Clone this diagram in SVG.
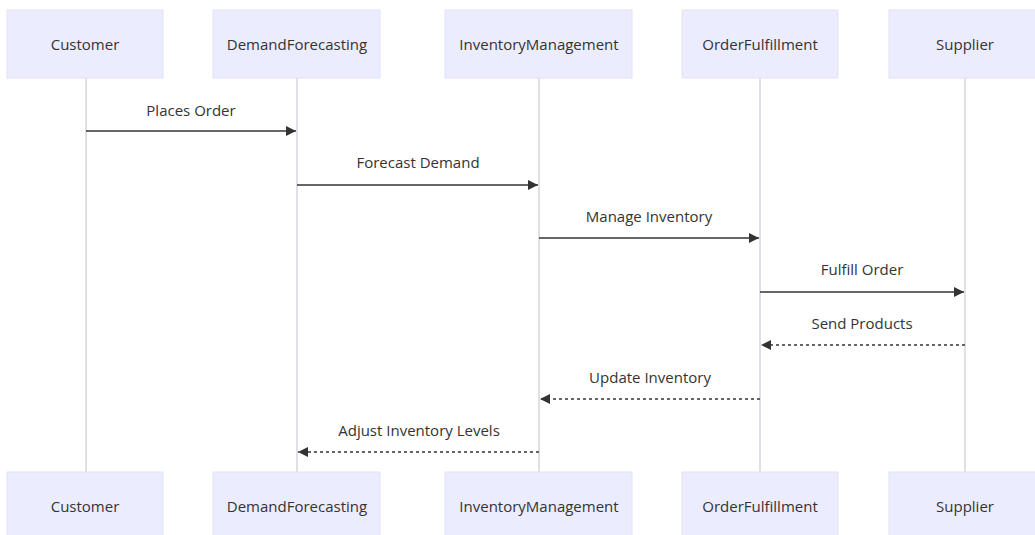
<svg xmlns="http://www.w3.org/2000/svg" width="1035" height="535" viewBox="0 0 1035 535">
<style>
.actor{fill:#ECECFF;stroke:#e2e2f6;stroke-width:1}
.atext{font-family:"Open Sans","DejaVu Sans",sans-serif;font-size:15px;fill:#333;text-anchor:middle;dominant-baseline:central}
.life{stroke:#d4d4e0;stroke-width:1.5}
.msg{stroke:#333;stroke-width:1.5;fill:none}
.dash{stroke-dasharray:3,3}
.mtext{font-family:"Open Sans","DejaVu Sans",sans-serif;font-size:15px;fill:#333;text-anchor:middle;dominant-baseline:central}
</style>
<defs>
<marker id="ah" viewBox="0 0 10 10" refX="10" refY="5" markerWidth="10" markerHeight="10" markerUnits="userSpaceOnUse" orient="auto">
<path d="M0,0 L10,5 L0,10 z" fill="#333"/>
</marker>
</defs>
<rect width="1035" height="535" fill="#fff"/>
<g id="lifelines">
<line class="life" x1="86" y1="78" x2="86" y2="472"/>
<line class="life" x1="297" y1="78" x2="297" y2="472"/>
<line class="life" x1="539" y1="78" x2="539" y2="472"/>
<line class="life" x1="760" y1="78" x2="760" y2="472"/>
<line class="life" x1="965" y1="78" x2="965" y2="472"/>
</g>
<g id="Customer">
<rect class="actor" x="7" y="10" width="156" height="68"/>
<text class="atext" x="85" y="44">Customer</text>
<rect class="actor" x="7" y="472" width="156" height="68"/>
<text class="atext" x="85" y="506">Customer</text>
</g>
<g id="DemandForecasting">
<rect class="actor" x="213" y="10" width="167" height="68"/>
<text class="atext" x="297" y="44">DemandForecasting</text>
<rect class="actor" x="213" y="472" width="167" height="68"/>
<text class="atext" x="297" y="506">DemandForecasting</text>
</g>
<g id="InventoryManagement">
<rect class="actor" x="445" y="10" width="187" height="68"/>
<text class="atext" x="539" y="44">InventoryManagement</text>
<rect class="actor" x="445" y="472" width="187" height="68"/>
<text class="atext" x="539" y="506">InventoryManagement</text>
</g>
<g id="OrderFulfillment">
<rect class="actor" x="682" y="10" width="156" height="68"/>
<text class="atext" x="760" y="44">OrderFulfillment</text>
<rect class="actor" x="682" y="472" width="156" height="68"/>
<text class="atext" x="760" y="506">OrderFulfillment</text>
</g>
<g id="Supplier">
<rect class="actor" x="889" y="10" width="153" height="68"/>
<text class="atext" x="965" y="44">Supplier</text>
<rect class="actor" x="889" y="472" width="153" height="68"/>
<text class="atext" x="965" y="506">Supplier</text>
</g>
<g id="connectors">
<line class="msg" x1="86" y1="131" x2="296" y2="131" marker-end="url(#ah)"/>
<text class="mtext" x="191" y="110">Places Order</text>
<line class="msg" x1="297" y1="185" x2="538" y2="185" marker-end="url(#ah)"/>
<text class="mtext" x="418" y="162">Forecast Demand</text>
<line class="msg" x1="539" y1="238" x2="759" y2="238" marker-end="url(#ah)"/>
<text class="mtext" x="649" y="216">Manage Inventory</text>
<line class="msg" x1="760" y1="292" x2="964" y2="292" marker-end="url(#ah)"/>
<text class="mtext" x="862" y="269">Fulfill Order</text>
<line class="msg dash" x1="965" y1="345" x2="761" y2="345" marker-end="url(#ah)"/>
<text class="mtext" x="862" y="323">Send Products</text>
<line class="msg dash" x1="760" y1="399" x2="540" y2="399" marker-end="url(#ah)"/>
<text class="mtext" x="650" y="377">Update Inventory</text>
<line class="msg dash" x1="539" y1="452" x2="298" y2="452" marker-end="url(#ah)"/>
<text class="mtext" x="419" y="430">Adjust Inventory Levels</text>
</g>
</svg>
